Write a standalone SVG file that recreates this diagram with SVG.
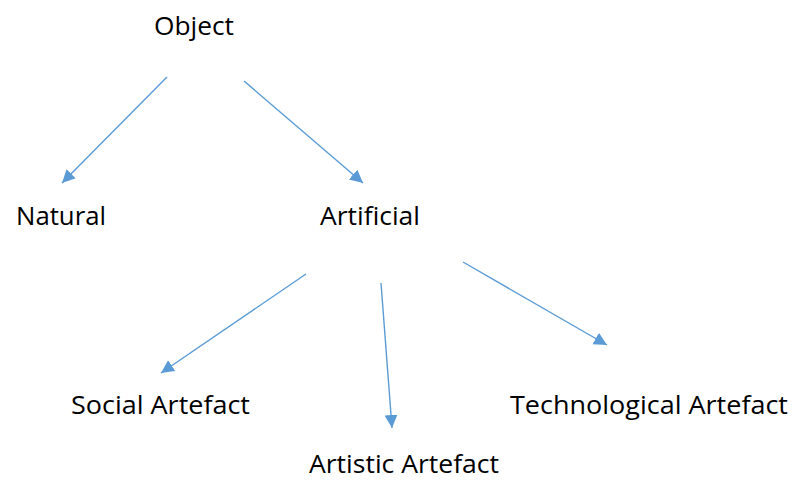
<svg xmlns="http://www.w3.org/2000/svg" width="793" height="480" viewBox="0 0 793 480">
<style>
.lbl{font-family:"Open Sans","Liberation Sans",sans-serif;font-size:25px;fill:#000;}
.edge{stroke:#5B9BD5;stroke-width:1.4;fill:none;marker-end:url(#ah);}
</style>
<defs>
<marker id="ah" markerUnits="userSpaceOnUse" markerWidth="14" markerHeight="14" refX="13" refY="6.5" orient="auto">
<path d="M0,0 L13,6.5 L0,13 Z" fill="#5B9BD5"/>
</marker>
</defs>
<rect width="793" height="480" fill="#fff"/>
<g id="connectors">
<line class="edge" x1="167" y1="77" x2="62" y2="183"/>
<line class="edge" x1="244" y1="81" x2="363" y2="183"/>
<line class="edge" x1="306" y1="274" x2="161" y2="373"/>
<line class="edge" x1="381" y1="283" x2="392" y2="428"/>
<line class="edge" x1="463" y1="262" x2="607" y2="345"/>
</g>
<g id="object"><text class="lbl" x="154" y="35" textLength="80" lengthAdjust="spacingAndGlyphs">Object</text></g>
<g id="natural"><text class="lbl" x="16" y="224.5" textLength="90" lengthAdjust="spacingAndGlyphs">Natural</text></g>
<g id="artificial"><text class="lbl" x="320" y="224.5" textLength="100" lengthAdjust="spacingAndGlyphs">Artificial</text></g>
<g id="social"><text class="lbl" x="71" y="414" textLength="179" lengthAdjust="spacingAndGlyphs">Social Artefact</text></g>
<g id="technological"><text class="lbl" x="510" y="414" textLength="278" lengthAdjust="spacingAndGlyphs">Technological Artefact</text></g>
<g id="artistic"><text class="lbl" x="309" y="473" textLength="190" lengthAdjust="spacingAndGlyphs">Artistic Artefact</text></g>
</svg>
